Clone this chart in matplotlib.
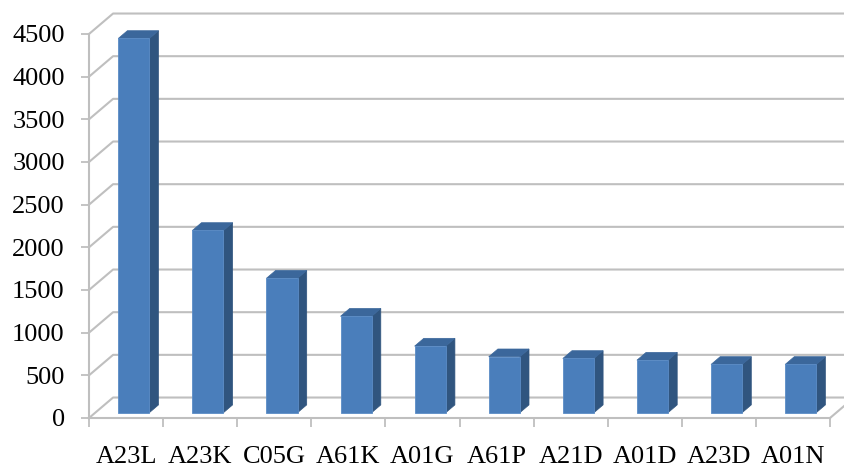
import matplotlib
matplotlib.use('Agg')
import matplotlib.pyplot as plt
from matplotlib.patches import Polygon

categories = ['A23L', 'A23K', 'C05G', 'A61K', 'A01G', 'A61P', 'A21D', 'A01D', 'A23D', 'A01N']
counts = [4385, 2135, 1575, 1130, 780, 655, 635, 615, 565, 565]
y_ticks = list(range(0, 5000, 500))

plt.rcParams['font.family'] = ['Liberation Serif', 'DejaVu Serif']

# oblique 3D look: offset of the back wall and bar geometry (depth as fraction of floor)
depth_x = 0.325
depth_y = 240
bar_z = 0.26
bar_depth = 0.38
bar_width = 0.42
grid_color = '#bfbfbf'
front_color = '#4a7ebb'
side_color = '#30557f'
top_color = '#3b679b'

fig = plt.figure(figsize=(8.45, 4.68), dpi=100)
ax = fig.add_axes([89 / 845, 50 / 468, 741 / 845, 384 / 468])
n = len(categories)
ax.set_xlim(0, n)
ax.set_ylim(0, y_ticks[-1])

# side wall diagonals and back wall gridlines
for v in y_ticks:
    ax.plot([0, depth_x, n + depth_x + 1], [v, v + depth_y, v + depth_y],
            color=grid_color, lw=1.5, clip_on=False, zorder=1)
# right edge of the floor
ax.plot([n, n + depth_x], [0, depth_y], color=grid_color, lw=1.5, clip_on=False, zorder=1)

# bars: front face, side face, top face
for i, v in enumerate(counts):
    x0 = i + 0.52 - bar_width / 2 + bar_z * depth_x
    x1 = x0 + bar_width
    y0 = bar_z * depth_y
    y1 = v + bar_z * depth_y
    ddx = bar_depth * depth_x
    ddy = bar_depth * depth_y
    side = Polygon([(x1, y0), (x1 + ddx, y0 + ddy), (x1 + ddx, y1 + ddy), (x1, y1)],
                   closed=True, facecolor=side_color, edgecolor=side_color, lw=0.5,
                   clip_on=False, zorder=3)
    top = Polygon([(x0, y1), (x1, y1), (x1 + ddx, y1 + ddy), (x0 + ddx, y1 + ddy)],
                  closed=True, facecolor=top_color, edgecolor=top_color, lw=0.5,
                  clip_on=False, zorder=3)
    front = Polygon([(x0, y0), (x1, y0), (x1, y1), (x0, y1)],
                    closed=True, facecolor=front_color, edgecolor='#5b8cc6', lw=0.6,
                    clip_on=False, zorder=4)
    ax.add_patch(side)
    ax.add_patch(top)
    ax.add_patch(front)

for s in ['top', 'right']:
    ax.spines[s].set_visible(False)
for s in ['left', 'bottom']:
    ax.spines[s].set_color(grid_color)
    ax.spines[s].set_linewidth(1.5)
    ax.spines[s].set_zorder(2)

ax.set_yticks(y_ticks)
ax.set_yticklabels([str(t) for t in y_ticks])
ax.tick_params(axis='y', length=5.5, width=1.3, color=grid_color, pad=12, labelsize=19)

ax.set_xticks([i + 0.5 for i in range(n)])
ax.set_xticklabels(categories)
ax.set_xticks(range(n + 1), minor=True)
ax.tick_params(axis='x', which='major', length=0, pad=20, labelsize=19)
ax.tick_params(axis='x', which='minor', length=6.5, width=1.3, color=grid_color)
ax.patch.set_visible(False)

fig.savefig('out.png', dpi=100)
